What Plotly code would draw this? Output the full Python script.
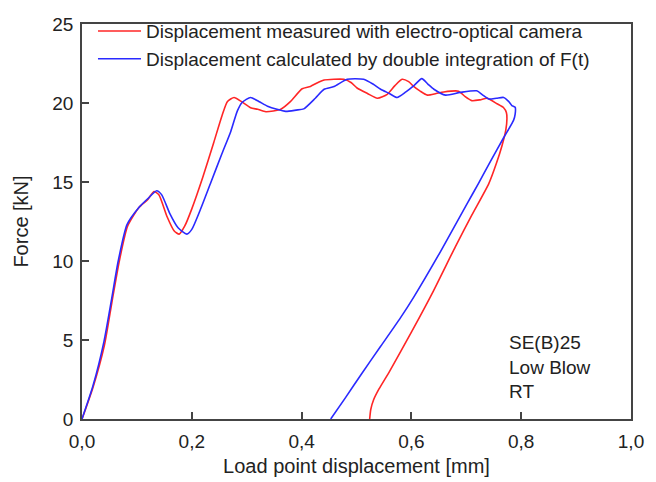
import plotly.graph_objects as go

# Displacement measured with electro-optical camera (red)
red_d = [0, 0.02, 0.041, 0.055, 0.068, 0.083, 0.104, 0.12, 0.131, 0.14, 0.155, 0.168, 0.177,
         0.187, 0.2, 0.22, 0.24, 0.255, 0.265, 0.277, 0.29, 0.307, 0.32, 0.335, 0.362, 0.38,
         0.401, 0.416, 0.43, 0.441, 0.477, 0.49, 0.501, 0.52, 0.538, 0.556, 0.57, 0.583,
         0.595, 0.604, 0.616, 0.629, 0.645, 0.659, 0.686, 0.698, 0.71, 0.725, 0.738, 0.756,
         0.768, 0.773, 0.774, 0.772, 0.765, 0.755, 0.741, 0.71, 0.68, 0.64, 0.6,
         0.56, 0.541, 0.531, 0.526, 0.524]
red_f = [0, 2.0, 4.7, 7.5, 10.0, 12.2, 13.4, 13.9, 14.4, 14.2, 12.8, 11.9, 11.7,
         12.2, 13.3, 15.3, 17.5, 19.2, 20.1, 20.35, 20.1, 19.7, 19.6, 19.45, 19.6, 20.1,
         20.9, 21.05, 21.3, 21.45, 21.5, 21.3, 20.95, 20.6, 20.3, 20.55, 21.1, 21.5,
         21.35, 21.05, 20.75, 20.5, 20.6, 20.7, 20.75, 20.4, 20.15, 20.2, 20.3, 19.95,
         19.7, 19.4, 19.0, 18.3, 17.3, 16.2, 14.9, 12.9, 10.9, 8.1, 5.5,
         3.0, 1.9, 1.2, 0.6, 0]

# Displacement calculated by double integration of F(t) (blue)
blue_d = [0, 0.02, 0.04, 0.054, 0.066, 0.082, 0.104, 0.12, 0.136, 0.145, 0.16, 0.175, 0.191,
          0.2, 0.215, 0.235, 0.255, 0.271, 0.283, 0.292, 0.307, 0.322, 0.338, 0.355, 0.371,
          0.39, 0.404, 0.425, 0.441, 0.459, 0.483, 0.513, 0.53, 0.544, 0.56, 0.574, 0.59,
          0.604, 0.619, 0.63, 0.641, 0.662, 0.689, 0.719, 0.73, 0.741, 0.755, 0.768, 0.777,
          0.783, 0.789, 0.789, 0.786, 0.768, 0.744, 0.722, 0.701, 0.653, 0.604, 0.58, 0.544,
          0.51, 0.48, 0.453]
blue_f = [0, 2.1, 4.9, 7.6, 10.0, 12.3, 13.4, 13.95, 14.45, 14.2, 13.0, 12.1, 11.7,
          12.0, 13.2, 15.0, 16.8, 18.2, 19.5, 20.05, 20.35, 20.1, 19.8, 19.6, 19.47,
          19.55, 19.63, 20.3, 20.87, 21.04, 21.5, 21.5, 21.2, 20.87, 20.6, 20.35, 20.7,
          21.08, 21.54, 21.2, 20.87, 20.5, 20.67, 20.77, 20.5, 20.25, 20.3, 20.35, 20.1,
          19.84, 19.73, 19.3, 18.9, 17.8, 16.3, 14.9, 13.6, 10.6, 7.7, 6.4, 4.6,
          2.9, 1.35, 0]

x_ticks = [0, 0.2, 0.4, 0.6, 0.8, 1.0]
y_ticks = [0, 5, 10, 15, 20, 25]

FONT = "Arial, Liberation Sans, sans-serif"
TXT = "#222222"

fig = go.Figure()
fig.add_trace(go.Scatter(x=red_d, y=red_f, mode="lines",
                         name="Displacement measured with electro-optical camera",
                         line=dict(color="#ff2626", width=1.6, shape="spline", smoothing=0.6)))
fig.add_trace(go.Scatter(x=blue_d, y=blue_f, mode="lines",
                         name="Displacement calculated by double integration of F(t)",
                         line=dict(color="#2a2aff", width=1.6, shape="spline", smoothing=0.6)))

fig.add_annotation(x=0.774, y=5.65, xref="x", yref="y", xanchor="left", yanchor="top",
                   text="SE(B)25<br>Low Blow<br>RT", showarrow=False, align="left",
                   font=dict(family=FONT, size=19, color=TXT))

axis_common = dict(showline=True, linecolor="#444444", linewidth=1.5, mirror=True,
                   ticks="inside", ticklen=7, tickwidth=1.5, tickcolor="#444444",
                   showgrid=False, zeroline=False, automargin=False,
                   tickfont=dict(family=FONT, size=19, color=TXT))

fig.update_layout(
    width=656, height=482,
    margin=dict(l=82, r=25, t=17, b=63),
    paper_bgcolor="white", plot_bgcolor="white",
    separators=",.",
    showlegend=True,
    legend=dict(x=0.02, y=1.03, xanchor="left", yanchor="top",
                bgcolor="rgba(0,0,0,0)", font=dict(family=FONT, size=19, color=TXT),
                tracegroupgap=0, itemwidth=43),
    xaxis=dict(range=[0, 1.0], tickvals=x_ticks, tickformat=".1f",
               ticklabelstandoff=4,
               title=dict(text="Load point displacement [mm]", standoff=8,
                          font=dict(family=FONT, size=20, color=TXT)),
               **axis_common),
    yaxis=dict(range=[0, 25], tickvals=y_ticks, ticklabelstandoff=3,
               title=dict(text="Force [kN]", standoff=18,
                          font=dict(family=FONT, size=20, color=TXT)),
               **axis_common),
)

fig.write_html("out.html")
